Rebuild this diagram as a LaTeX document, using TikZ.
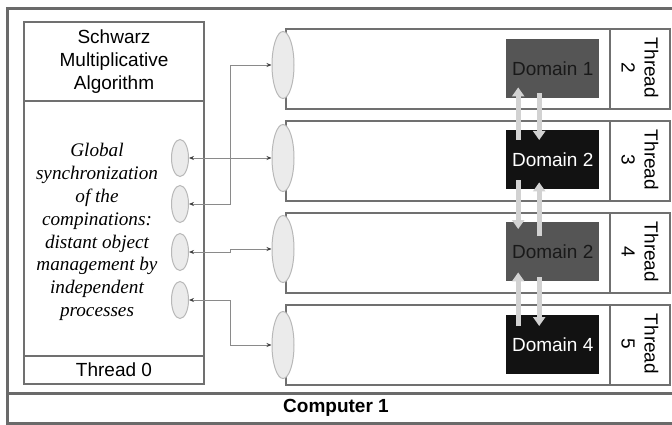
\documentclass[tikz,border=0pt]{standalone}
\usepackage{fontspec}
\setmainfont{Liberation Serif}
\setsansfont{Liberation Sans}
\usetikzlibrary{arrows.meta,shapes.geometric,calc}
\definecolor{frameg}{HTML}{6A6A6A}
\definecolor{boxg}{HTML}{707070}
\definecolor{domgrey}{HTML}{555555}
\definecolor{domblack}{HTML}{121212}
\definecolor{ellfill}{HTML}{EBEBEB}
\definecolor{elldraw}{HTML}{B8B8B8}
\definecolor{arrg}{HTML}{D2D2D2}
\definecolor{conng}{HTML}{8A8A8A}
\tikzset{
  txt/.style={font=\sffamily\fontsize{19}{23}\selectfont},
  plainbox/.style={draw=boxg, line width=2pt, rectangle, inner sep=0pt, fill=white},
  rowbox/.style={plainbox, minimum width=324pt, minimum height=80pt, anchor=north west},
  thrbox/.style={plainbox, minimum width=60pt, minimum height=80pt, anchor=north west},
  thrlabel/.style={txt, rotate=-90, align=center},
  domgreybox/.style={rectangle, fill=domgrey, minimum width=93pt, minimum height=59pt, inner sep=0pt, anchor=north west, txt, text=black!90},
  domblackbox/.style={rectangle, fill=domblack, minimum width=93pt, minimum height=59pt, inner sep=0pt, anchor=north west, txt, text=white},
  bigell/.style={ellipse, draw=elldraw, fill=ellfill, line width=1pt, minimum width=22pt, minimum height=67pt, inner sep=0pt},
  smallell/.style={ellipse, draw=elldraw, fill=ellfill, line width=1pt, minimum width=17pt, minimum height=37pt, inner sep=0pt},
  conn/.style={draw=conng, line width=0.7pt, {Stealth[length=5pt,width=4pt,color=black!75]}-{Stealth[length=5pt,width=4pt,color=black!75]}},
  darr/.style={draw=arrg, line width=5pt, -{Triangle[length=9pt,width=12pt]}},
}
\begin{document}
\begin{tikzpicture}[x=1pt,y=-1pt]
\useasboundingbox (0,0) rectangle (672,425);
% outer frame
\node[draw=frameg, line width=2.6pt, rectangle, inner sep=0pt, minimum width=670pt, minimum height=415pt, anchor=north west] (outer) at (6,7) {};
\node[draw=frameg, line width=2.6pt, rectangle, inner sep=0pt, minimum width=670pt, minimum height=30pt, anchor=north west] (comp) at (6,392) {};
\node[txt, font=\sffamily\bfseries\fontsize{19}{23}\selectfont] (complabel) at (336,408) {Computer 1};
% left box
\node[plainbox, minimum width=180pt, minimum height=362pt, anchor=north west] (left) at (23,21) {};
\node[plainbox, minimum width=180pt, minimum height=79pt, anchor=north west, txt, align=center] (schw) at (23,21) {Schwarz\\Multiplicative\\Algorithm};
\node[plainbox, minimum width=180pt, minimum height=28pt, anchor=north west, txt] (th0) at (23,355) {Thread 0};
\node[align=center, font=\rmfamily\itshape\fontsize{19.2}{22.9}\selectfont] (glob) at (97,232) {Global\\synchronization\\of the\\compinations:\\distant object\\management by\\independent\\processes};
% rows
\foreach \i/\y/\n in {1/28/2,2/120/3,3/212/4,4/304/5}{
  \node[rowbox] (row\i) at (285,\y) {};
  \node[thrbox] (tb\i) at (609,\y) {};
  \node[thrlabel] (tl\i) at ($(tb\i.center)+(0,-1)$) {Thread\\\n};
}
% domains
\node[domgreybox] (d1) at (506,39) {Domain 1};
\node[domblackbox] (d2) at (506,130) {Domain 2};
\node[domgreybox] (d3) at (506,222) {Domain 2};
\node[domblackbox] (d4) at (506,315) {Domain 4};
% domain arrows
\draw[darr] ([xshift=-34.5pt,yshift=-10pt]d2.north) -- ([xshift=-34.5pt,yshift=11pt]d1.south);
\draw[darr] ([xshift=-13.5pt,yshift=5pt]d1.south) -- ([xshift=-13.5pt,yshift=-10pt]d2.north);
\draw[darr] ([xshift=-34.5pt,yshift=9pt]d2.south) -- ([xshift=-34.5pt,yshift=-7pt]d3.north);
\draw[darr] ([xshift=-13.5pt,yshift=-14pt]d3.north) -- ([xshift=-13.5pt,yshift=7pt]d2.south);
\draw[darr] ([xshift=-34.5pt,yshift=-11pt]d4.north) -- ([xshift=-34.5pt,yshift=9pt]d3.south);
\draw[darr] ([xshift=-13.5pt,yshift=4pt]d3.south) -- ([xshift=-13.5pt,yshift=-11pt]d4.north);
% ellipses
\node[bigell] (b1) at (283,65) {};
\node[bigell] (b2) at (283,158) {};
\node[bigell] (b3) at (283,249) {};
\node[bigell] (b4) at (283,345) {};
\node[smallell] (s1) at (180,158) {};
\node[smallell] (s2) at (180,204) {};
\node[smallell] (s3) at (180,252) {};
\node[smallell] (s4) at (180,300) {};
\coordinate (bx) at (230,0);
% connectors
\draw[conn] (s1.east) -- (b2.west);
\draw[conn] (s2.east) -- (s2.east -| bx) |- (b1.west);
\draw[conn] (s3.east) -- (s3.east -| bx) |- (b3.west);
\draw[conn] (s4.east) -- (s4.east -| bx) |- (b4.west);
\end{tikzpicture}
\end{document}
